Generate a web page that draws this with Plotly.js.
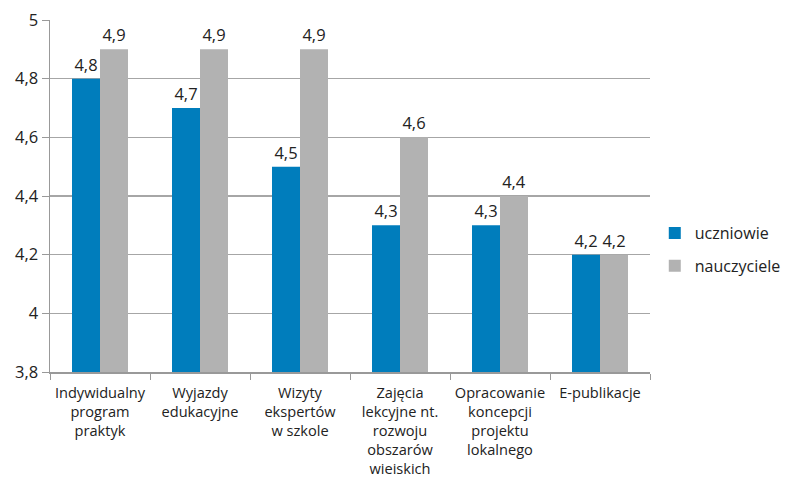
<!DOCTYPE html>
<html>
<head>
<meta charset="utf-8">
<script src="https://cdn.plot.ly/plotly-3.0.1.min.js"></script>
<style>html,body{margin:0;padding:0;background:#fff;}#chart{width:787px;height:480px;}</style>
</head>
<body>
<div id="chart"></div>
<script>
const categories = [
  "Indywidualny<br>program<br>praktyk",
  "Wyjazdy<br>edukacyjne",
  "Wizyty<br>ekspertów<br>w szkole",
  "Zajęcia<br>lekcyjne nt.<br>rozwoju<br>obszarów<br>wieiskich",
  "Opracowanie<br>koncepcji<br>projektu<br>lokalnego",
  "E-publikacje"
];
const uczniowie = [4.8, 4.7, 4.5, 4.3, 4.3, 4.2];
const nauczyciele = [4.9, 4.9, 4.9, 4.6, 4.4, 4.2];
const seriesNames = ["uczniowie", "nauczyciele"];
const yTicks = [3.8, 4, 4.2, 4.4, 4.6, 4.8, 5];

const font = "'Open Sans', 'Noto Sans', sans-serif";
const traces = [
  {type: "bar", name: seriesNames[0], legendgroup: "a", x: categories, y: uczniowie,
   marker: {color: "#007DBC"}, texttemplate: "%{y:.1f}", textposition: "outside",
   textfont: {size: 16.5, color: "#222"}, cliponaxis: false},
  {type: "bar", name: seriesNames[1], legendgroup: "b", x: categories, y: nauczyciele,
   marker: {color: "#B2B2B2"}, texttemplate: "%{y:.1f}", textposition: "outside",
   textfont: {size: 16.5, color: "#222"}, cliponaxis: false}
];
const layout = {
  width: 787, height: 480,
  margin: {l: 50, r: 137, t: 20, b: 108},
  paper_bgcolor: "#fff", plot_bgcolor: "#fff",
  font: {family: font, size: 15, color: "#222"},
  separators: ", ",
  barmode: "group", bargap: 0.44, bargroupgap: 0,
  showlegend: true,
  legend: {xref: "container", yref: "container", x: 0.832, xanchor: "left",
           y: 0.48, yanchor: "middle", traceorder: "grouped",
           font: {size: 16, color: "#222"}, tracegroupgap: 9, itemwidth: 30},
  xaxis: {type: "category", showline: true, linecolor: "#999", linewidth: 1.5,
          ticks: "outside", tickson: "boundaries", ticklen: 6, tickcolor: "#999",
          tickangle: 0, tickfont: {size: 14.6, color: "#222"}, showgrid: false,
          ticklabelstandoff: 7},
  yaxis: {range: [3.8, 5], tickvals: yTicks, tickformat: ".1~f",
          showline: true, linecolor: "#999", linewidth: 1.5,
          ticks: "outside", ticklen: 7, tickcolor: "#999",
          showgrid: true, gridcolor: "#A6A6A6", gridwidth: 1.3,
          tickfont: {size: 16.5, color: "#222"}, zeroline: false}
};
Plotly.newPlot("chart", traces, layout, {displayModeBar: false, staticPlot: true});
</script>
</body>
</html>
